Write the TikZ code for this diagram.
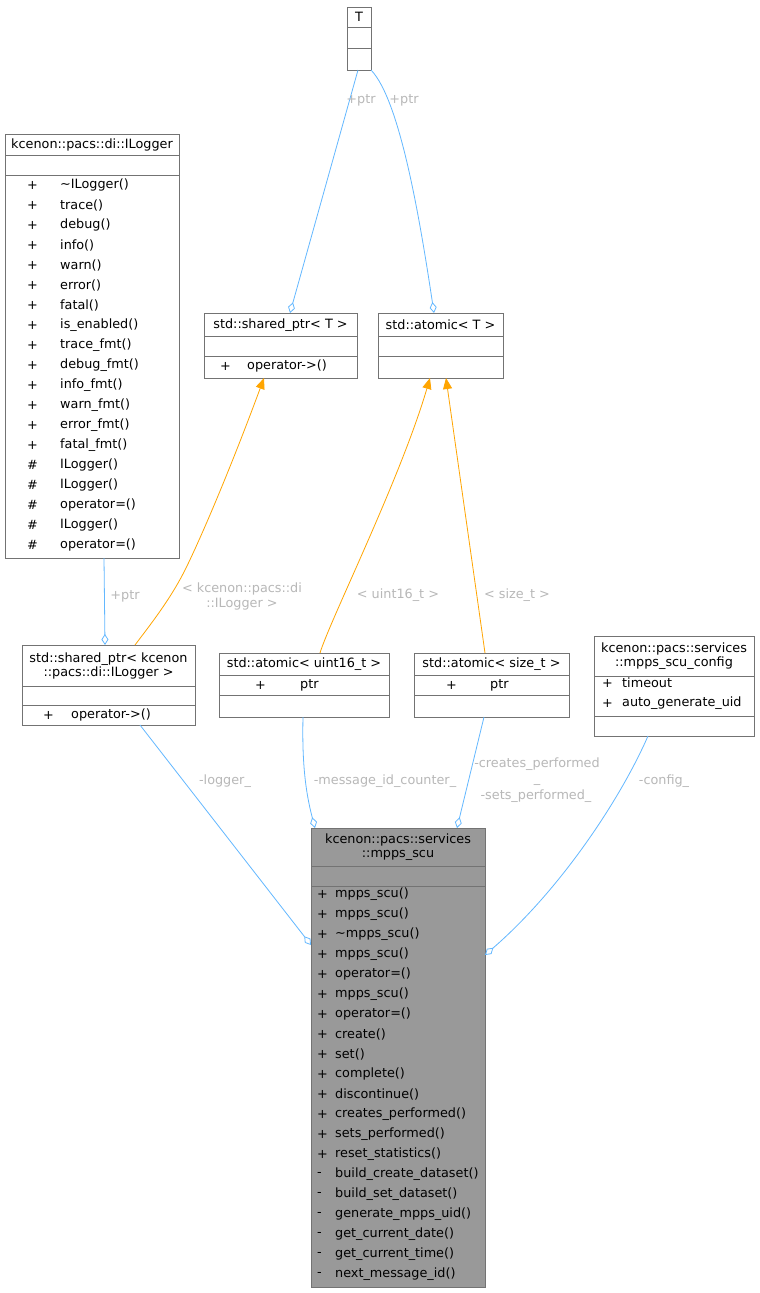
\documentclass[tikz,border=0pt]{standalone}
\usepackage{fontspec}
\setmainfont{DejaVu Sans}
\usetikzlibrary{arrows.meta,calc}
\definecolor{aggc}{RGB}{99,184,255}
\definecolor{inhc}{RGB}{255,165,0}
\begin{document}
\begin{tikzpicture}[x=1pt,y=-1pt,
  box/.style={draw=black!55,line width=0.8pt,inner sep=0pt},
  sep/.style={draw=black!55,line width=0.8pt},
  txt/.style={inner sep=0pt,font=\fontsize{12.8}{14}\selectfont},
  lbl/.style={inner sep=0pt,font=\fontsize{12.8}{15}\selectfont,text=black!28,align=center},
  agg/.style={draw=aggc,line width=0.8pt,{Diamond[open,length=11pt,width=7pt]}-},
  inh/.style={draw=inhc,line width=0.8pt,{Triangle[length=11pt,width=9pt,fill=inhc]}-}]
\useasboundingbox (0,0) rectangle (760,1293);
\fill[white] (0,0) rectangle (760,1293);
% T
\node[box,minimum width=24,minimum height=63] (T) at (359,38.5) {};
\node[txt] at (359,17) {T};
\draw[sep] (347,27)--(371,27) (347,48)--(371,48);
% ILogger
\node[box,minimum width=174,minimum height=424] (IL) at (92,346) {};
\node[txt] at (92,145) {kcenon::pacs::di::ILogger};
\draw[sep] (5,155)--(179,155) (5,175)--(179,175);
\foreach \s/\n [count=\i from 0] in {+/\textasciitilde ILogger(),+/trace(),+/debug(),+/info(),+/warn(),+/error(),+/fatal(),+/is\_enabled(),+/trace\_fmt(),+/debug\_fmt(),+/info\_fmt(),+/warn\_fmt(),+/error\_fmt(),+/fatal\_fmt(),\#/ILogger(),\#/ILogger(),\#/operator=(),\#/ILogger(),\#/operator=()}
 {\node[txt,anchor=west] at (27,185+20*\i) {\s};\node[txt,anchor=west] at (60,185+20*\i) {\n};}
% shared_ptr<T>
\node[box,minimum width=153,minimum height=65] (SP) at (280.5,345.5) {};
\node[txt] at (280.5,325) {std::shared\_ptr< T >};
\draw[sep] (204,336)--(357,336) (204,356)--(357,356);
\node[txt,anchor=west] at (220,366) {+};
\node[txt,anchor=west] at (247,366) {operator->()};
% atomic<T>
\node[box,minimum width=125,minimum height=65] (AT) at (440.5,345.5) {};
\node[txt] at (440.5,325) {std::atomic< T >};
\draw[sep] (378,336)--(503,336) (378,356)--(503,356);
% shared_ptr<ILogger>
\node[box,minimum width=173,minimum height=80] (SPL) at (108.5,685) {};
\node[txt,align=center] at (108.5,665.5) {std::shared\_ptr< kcenon\\::pacs::di::ILogger >};
\draw[sep] (22,686)--(195,686) (22,705)--(195,705);
\node[txt,anchor=west] at (43,715) {+};
\node[txt,anchor=west] at (71,715) {operator->()};
% atomic<uint16_t>
\node[box,minimum width=170,minimum height=64] (AU) at (304,685) {};
\node[txt] at (304,664) {std::atomic< uint16\_t >};
\draw[sep] (219,675)--(389,675) (219,695)--(389,695);
\node[txt,anchor=west] at (255,685) {+};
\node[txt,anchor=west] at (300,685) {ptr};
% atomic<size_t>
\node[box,minimum width=155,minimum height=64] (AS) at (491.5,685) {};
\node[txt] at (491.5,664) {std::atomic< size\_t >};
\draw[sep] (414,675)--(569,675) (414,695)--(569,695);
\node[txt,anchor=west] at (446,685) {+};
\node[txt,anchor=west] at (490,685) {ptr};
% config
\node[box,minimum width=160,minimum height=100] (CF) at (674,686) {};
\node[txt,align=center] at (674,656) {kcenon::pacs::services\\::mpps\_scu\_config};
\draw[sep] (594,676)--(754,676) (594,716)--(754,716);
\node[txt,anchor=west] at (602,683) {+};
\node[txt,anchor=west] at (622,683) {timeout};
\node[txt,anchor=west] at (602,703) {+};
\node[txt,anchor=west] at (622,703) {auto\_generate\_uid};
% mpps_scu
\node[box,fill=black!40,minimum width=174,minimum height=459] (MS) at (398,1057.5) {};
\node[txt,align=center] at (398,847) {kcenon::pacs::services\\::mpps\_scu};
\draw[sep] (311,866)--(485,866) (311,886)--(485,886);
\foreach \s/\n [count=\i from 0] in {+/mpps\_scu(),+/mpps\_scu(),+/\textasciitilde mpps\_scu(),+/mpps\_scu(),+/operator=(),+/mpps\_scu(),+/operator=(),+/create(),+/set(),+/complete(),+/discontinue(),+/creates\_performed(),+/sets\_performed(),+/reset\_statistics(),-/build\_create\_dataset(),-/build\_set\_dataset(),-/generate\_mpps\_uid(),-/get\_current\_date(),-/get\_current\_time(),-/next\_message\_id()}
 {\node[txt,anchor=west] at (317,894+20*\i) {\s};\node[txt,anchor=west] at (335,894+20*\i) {\n};}
% edges
\coordinate (Ta) at (358,70); \coordinate (Tb) at (371,70);
\coordinate (SPt) at (290,313); \coordinate (ATt) at (434,313);
\draw[agg] (SPt) -- (Ta);
\draw[agg] (ATt) .. controls (420,220) and (400,100) .. (Tb);
\node[lbl] at (361,100) {+ptr};
\node[lbl] at (404,100) {+ptr};
\coordinate (SPb) at (264,378); \coordinate (ATb1) at (430,378); \coordinate (ATb2) at (446,378);
\coordinate (SPLt) at (135,645); \coordinate (AUt) at (320,653); \coordinate (ASt) at (485,653);
\draw[inh] (SPb) .. controls (230,470) and (200,540) .. (185,570) .. controls (170,600) and (150,625) .. (SPLt);
\draw[inh] (ATb1) .. controls (400,480) and (330,620) .. (AUt);
\draw[inh] (ATb2) -- (ASt);
\node[lbl] at (242,596) {< kcenon::pacs::di\\::ILogger >};
\node[lbl] at (398,595) {< uint16\_t >};
\node[lbl] at (517,595) {< size\_t >};
\coordinate (ILb) at (104,558); \coordinate (SPLt2) at (105,645);
\draw[agg] (SPLt2) -- (ILb);
\node[lbl] at (125,596) {+ptr};
\coordinate (SPLb) at (140,725); \coordinate (MSl) at (311,945);
\draw[agg] (MSl) -- (SPLb);
\node[lbl] at (225,781) {-logger\_};
\coordinate (AUb) at (303,717); \coordinate (MSt1) at (315,828);
\draw[agg] (MSt1) .. controls (305,790) and (302,760) .. (AUb);
\node[lbl] at (385,781) {-message\_id\_counter\_};
\coordinate (ASb) at (484,717); \coordinate (MSt2) at (457,828);
\draw[agg] (MSt2) -- (ASb);
\node[lbl] at (537,772) {-creates\_performed\\\_};
\node[lbl] at (536,796) {-sets\_performed\_};
\coordinate (CFb) at (648,736); \coordinate (MSr) at (485,955);
\draw[agg] (MSr) .. controls (560,890) and (620,800) .. (CFb);
\node[lbl] at (664,781) {-config\_};
\end{tikzpicture}
\end{document}
